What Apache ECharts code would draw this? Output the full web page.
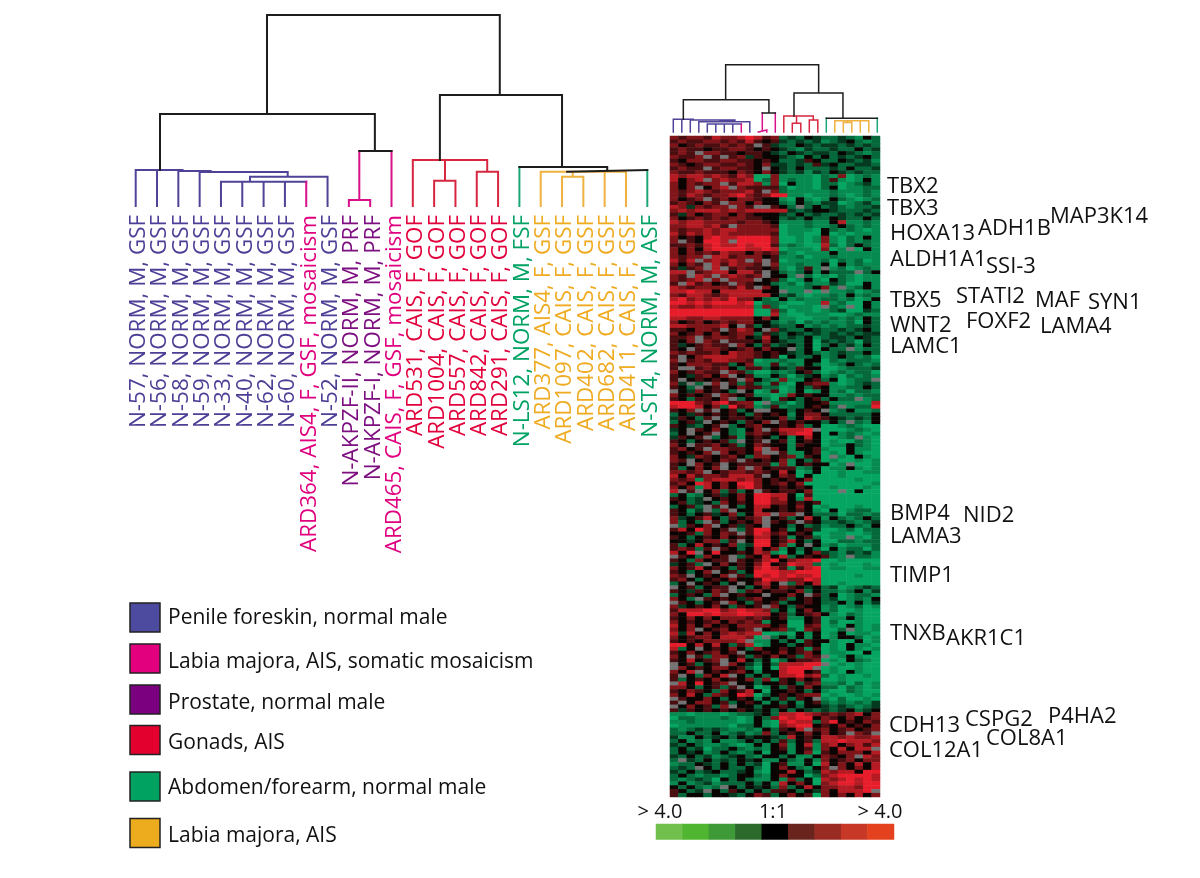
<!DOCTYPE html>
<html><head><meta charset="utf-8">
<style>html,body{margin:0;padding:0;background:#fff}#c{width:1200px;height:878px}</style>
<script src="https://cdn.jsdelivr.net/npm/echarts@6/dist/echarts.min.js"></script>
</head><body><div id="c"></div>
<script>
const sampleLabels = ["N-57, NORM, M, GSF","N-56, NORM, M, GSF","N-58, NORM, M, GSF","N-59, NORM, M, GSF","N-33, NORM, M, GSF","N-40, NORM, M, GSF","N-62, NORM, M, GSF","N-60, NORM, M, GSF","ARD364, AIS4, F, GSF, mosaicism","N-52, NORM, M, GSF","N-AKPZF-II, NORM, M, PRF","N-AKPZF-I, NORM, M, PRF","ARD465, CAIS, F, GSF, mosaicism","ARD531, CAIS, F, GOF","ARD1004, CAIS, F, GOF","ARD557, CAIS, F, GOF","ARD842, CAIS, F, GOF","ARD291, CAIS, F, GOF","N-LS12, NORM, M, FSF","ARD377, AIS4, F, GSF","ARD1097, CAIS, F, GSF","ARD402, CAIS, F, GSF","ARD682, CAIS, F, GSF","ARD411, CAIS, F, GSF","N-ST4, NORM, M, ASF"];
const sampleGroups = [0,0,0,0,0,0,0,0,1,0,2,2,1,3,3,3,3,3,4,5,5,5,5,5,4];
const legendNames = ["Penile foreskin, normal male","Labia majora, AIS, somatic mosaicism","Prostate, normal male","Gonads, AIS","Abdomen/forearm, normal male","Labia majora, AIS"];
const geneNames = ["TBX2","TBX3","HOXA13","ADH1B","MAP3K14","ALDH1A1","SSI-3","TBX5","STATI2","MAF","SYN1","WNT2","FOXF2","LAMA4","LAMC1","BMP4","NID2","LAMA3","TIMP1","TNXB","AKR1C1","CDH13","CSPG2","P4HA2","COL12A1","COL8A1"];
const scaleValues = [-4,-3,-2,-1,0,1,2,3,4];
const scaleLabels = ["> 4.0","1:1","> 4.0"];

// sample dendrogram: paths of [leaf position, height]
const bigBlack = [[[6.16,92],[6.16,191],[17.08,191],[17.08,111]],[[1.14,36],[1.14,92],[11.22,92],[11.22,55]],[[10.49,55],[12,55]],[[14.27,46],[14.27,111],[20,111],[20,39]],[[18,39],[22.12,39],[22.12,36]],[[20.24,34.3],[20.24,36],[24,36]]];
const bigPurple = [[[0,0],[0,36],[2.2,36]],[[1,0],[1,36]],[[2,0],[2,35],[3.52,35]],[[3,0],[3,34],[7.13,34],[7.13,29.3]],[[5.36,24.3],[5.36,29.3],[9,29.3],[9,0]],[[4,0],[4,24.3],[8,24.3]],[[5,0],[5,24.3]],[[6,0],[6,24.3]],[[7,0],[7,24.3]]];
const bigMagenta = [[[8,24.3],[8,0]],[[12,55],[12,0]],[[10.49,55],[10.49,6]],[[10,0],[10,6],[11,6],[11,0]]];
const bigRed = [[[13,0],[13,46],[16.49,46],[16.49,34.3]],[[16,0],[16,34.3],[17,34.3],[17,0]],[[14.51,46],[14.51,25.3]],[[14,0],[14,25.3],[15,25.3],[15,0]]];
const bigGreen = [[[18,0],[18,39]],[[24,0],[24,36]]];
const bigOrange = [[[19,0],[19,34.3],[23,34.3],[23,0]],[[22,0],[22,34.3]],[[20.5,34.3],[20.5,29.3]],[[20,0],[20,29.3],[21,29.3],[21,0]]];

// gene-cluster dendrogram above the heat map
const smallBlack = [[[6.16,32.3],[6.16,67.3],[17.1,67.3],[17.1,39]],[[1.18,12.7],[1.18,32.3],[11.25,32.3],[11.25,19]],[[10.47,19],[12,19]],[[14.2,16],[14.2,39],[19.96,39],[19.96,13.7]],[[18,13.7],[24,13.7]]];
const smallPurple = [[[0,0],[0,12.7],[2.35,12.7]],[[1,0],[1,12.7]],[[2,0],[2,12],[7.25,12]],[[3,0],[3,10.3],[9,10.3],[9,0]],[[4,0],[4,8],[8,8]],[[5,0],[5,8]],[[6,0],[6,8]],[[7,0],[7,8]],[[5.5,10.9],[7.25,10.9]]];
const smallMagenta = [[[8,0],[8,8]],[[12,0],[12,19]],[[10.47,19],[10.47,2]],[[10,0],[10,2],[11,2],[11,0]]];
const smallRed = [[[13,0],[13,16],[16.47,16],[16.47,12]],[[14.5,16],[14.5,8.7]],[[14,0],[14,8.7],[15,8.7],[15,0]],[[16,0],[16,12],[17,12],[17,0]]];
const smallGreen = [[[18,0],[18,13.7]],[[24,0],[24,13.7]]];
const smallOrange = [[[19,0],[19,11.3],[23,11.3],[23,0]],[[22,0],[22,11.3]],[[20,0],[20,9.5],[21,9.5],[21,0]],[[20.5,9.5],[20.5,11.3]]];

// heat map rows, top to bottom. a b c d = strong to weak green, . = black, 1 2 3 4 = weak to strong red, _ = no data
const rowsA = ["2122132234 312 cdc.d ccdcb.c","1211221213 1.1 dcdcd bcd.cbc","2.12112121 _1d cc.dc ddcdcdc","1211.11221 .1. dcbdc cdcc.cd","121_2211.1 1.d c.dcd dc.dcbc","2112_1_12d 1.. dcb.c .cdcd.c","1.22112211 .1. ccd1. cc.dcdb","21.1221121 .2d dcdc1 d.ccddc","1211_12211 ._. dc.cc cdc.ccd","2112111.21 .2. dcdbd c.dcdcc"];
const rowsB = ["3233232132 aa2 bbbba cb2abcb","3.23_23223 ac2 bcbba c1bab.b","2.2122_133 2b2 a.bba ccabcdb","2.2_.23_21 111 cabba c.abbcc","2123212223 1_2 cbbbb bcbbbcb","2132122342 124 4bbab bcbabcb","2.12_12.22 1.. ba.ba b.cbabc","121.21_22. 2.. cb.cb ddabcdb"];
const rowsC = ["32d2122_21 __1 .c_c. cdcbccd","2323332323 333 3dcd. .dcccdc","1d2.122.21 ... dc.cd ccdcdcd","2.12121221 1.. cdc.c c.dcc.c"];
const rowsD = ["3233222212 21. bbbcb b.3bbcb","2233231_22 221 abbcb bc.cbcb","2122323322 222 abbba .cbcbab","3132323222 221 abbaa .ababbb","2.1.343344 442 aabab 2bacb.b","2_1.443_44 442 aabab 2bacbcb","1121343343 441 bcbaa 3cac.cb","2.2.344443 343 abbba 2ab_a.b","2.2121322. 212 cbabb b.bbbbb","2122_33122 2.1 bbcab bcbbbbb"];
const rowsE = ["313_23232_ 2_1 abbbb cacbcab","2.21_31322 1_2 bbcbb .a.bcbb","1d12_3_121 1.1 bac1b _bcabcb","33_1233.33 1_. cbc.b .ccc_c.","21_32_2321 2_. .b_ca bacbabb","2123_2_222 _.1 cab.b a.cbabb","1_312.1_21 ..c bcacb bdcaa.b","3212222131 _2. bbbc. 2b_bc.b","33433.3333 3.. _bb_a _bbcabc","2133212333 33. cdbab bcb.bcb"];
const rowsF = ["3423232422 .cb .bcbb ccbcab.","4434344434 acc baabb 3bcaa.b","3223233333 b2c abbba _cb_a.b","4444444444 aa2 cabba bcdaadc","4444444444 aa3 baabb baabcbb","3322332222 .2. bbaab bcbcb.c"];
const rowsG = ["2.12.12122 ..c bcacb cbbca.c","3322223._1 c.d cc.bc bcbccdc","11.221_132 ._2 dcc.d ccdcd.c","2.12.2.122 c1d c.dcd cdcdcdd","112_12212. d3. cdc.b cddc.dc","1.2_21_111 .2. dcc.a dcdcadc","1d.1211_2. c1c d.c.a c.cdb.c"];
const rowsH = ["1._1221.12 .2. ._c.a .cc_bcc","212112.322 1.1 .dc.c bcdcc.c","1_.2333322 1.1 a.cc. bc.cbca","2_12133221 abb cbb.. acbcccb","1.22211c.2 bb1 bcb.c abc.cbc","1__1212.c1 1c. dc1.. aabcccd","2.1211_21c aac bc.1c abcbcca","1.d12.2_.1 bb. cacd. bcacbcb","1_.1.1.1_2 .cb 2bb.1 c.abcc_","2d_c_2_1c1 cb1 ba.12 2babcdc","1.c_.1_.21 1cc ab.c1 .bbcc.c","_.d2.1.c_. ab1 ab.ab .bcaccb","2.1.1_21.1 bba b2.1. .bbcbcc","1.c11.2_c. .ca 1.c.1 c.cc_bc"];
const rowsI = ["4442134122 a_c cac.. 1bbbbb3","3443.2c412 bc1 bcc.1 .c_bcc4","1.2_1_.1c. __. .c.1. _bc.bbc"];
const rowsJ = ["c.d1.1.1.c 1.1 .b.22 .ccccc.","d1.c1_.11. 1.. 2c.32 1.dcdc.","c.1d_.1.c1 .2_ 1.1.. c.c_cb.","1.dc.1_c.1 2.. 1.2c. aabcbaa","d._1.2.cb. 2_1 3334_ aaabcba","c._.1_.cb1 21. 2344. a.bcbab","d1.1_c.1b. 1.c .b.3. aabc_ba","1.c.1.1c_. 1_. 1b.1. abaacba"];
const rowsK = ["2._112.1c. 21. .b1.. abb.cba","12.1_2211. 3_2 .b..1 baa.bba","1.1.2_2.1. 2__ 1bb.1 aba.baa","2.d21.12.c 22. 12b1. a_ba.ba","21_.1.21_1 .1. 2b.c1 abaabab","1._2.1_.11 11b 2b.1. .ab_aab","1c.2.2_.2_ 2.1 11bc. abb.bab","2212_.1221 21. 3.ab. aabaabb"];
const rowsL = ["3.31221333 1_. 21a.a aabaaaa","212b233323 2.1 .1.2a aaaabaa","12.43.2.44 2.1 2.2aa aaaaaab","2.2b3.2.34 2.. 1.1.a abaaaba","3_1_.2c1c. _1. 11.2a aa_a.aa","c.bc.1d.2. 443 3.a1a aaaaaaa"];
const rowsM = ["1.cd_.1.2. 442 3.b3a aaaaaaa",".1cd.c2.1. 442 2.1.1 aaaaaaa","c.1c_1_.c. 33. 1.2.a baaabaa","1.bd_c2_.. 3.. 1.1.b a.abcca","1.c.1d.2c. 33_ 22_.c ccaccbc","2d.13.c1.1 2_. 1c.3. b.cbc.c","2c.c_1c.1. 2_1 .1_1. ccdcbcd","_c1.2_.1d1 ._. .c.cd bcc.cb."];
const rowsN = ["13.42.1_c1 44. 1b.1d aabcacc","..1c2.21_1 431 2.1.a abbaabc","1.c.1.2.1. 33. 1b.1c abb_bac","..d.22c1_. 44. 13.c. aaccbcc","1c.3.1.2cd 44. 2b._. bcabbbc","121c1_1.c. 3.2 b.c.c a.bccac","3.4_.4..1. 32b a.b.2 dcbdcdb","_1.c2.1_c1 .3. 3c.1. 1cb_ccb"];
const rowsO = ["1.c2.11_1. 134 .2334 aabaaaa","d.1c_.2.1. 24. 1433c abaaaba","2.13.1.c1. 343 1b134 abbaabb","1.c.2_.1c. 444 33444 aaaaaaa","21_.1.2_1d 434 34334 aaaabaa","12.c.1.2.. 143 32243 aaaaaaa","c._.1.c._. 23. _c2.3 aabaaaa","_.1c.11_.c .2. 21.d. cdabcdc"];
const rowsP = ["1.d1.21_c1 2.1 1.2c. ccbc.bd","c.1.c2_.1. ._. .2._1 c.abccb","2.c_1.1.d1 2.. 1c.1. cdabcb.","_1.c.1_2.c 1.1 c..1. cc.b.bd","2d.1.2.c1. 1_2 .c1.. bcabcab"];
const rowsQ = ["1333442343 32c .b.2. bcaabaa","2.44343344 33. 1c.12 .bacbaa","1.2.2.2221 21. 1bb.1 abb.baa","2.1.12.212 1b. .aa.1 acaabaa","3.2.2.1.22 22. 1aa12 aba.bab","2.2_.12.12 _.1 2ca21 aac_bab","3d3.2.2323 3aa ba.b. ab.abba","2.122.3332 a_c .b.b. ab..cab"];
const rowsR = ["1.1.22223_ bb. c.b1. .baa.ab","44.3.3.c13 ab. .c.1. aba.bba","3c._.1.2.c 2.. 1.1b1 aba.bab","1.2.12.1_. .1. 2.12. abbaa.a","2._1c22.1c 1.2 .1c21 _ab.baa","1.3.12_.3. c.a c.112 aba.cba","_.1c.1_2.d b.c 33344 _ababaa","_2.1.22.1c a.a 3444_ abaabaa"];
const rowsS = ["2.3_.1.12. b.. 344.1 aba.baa","1_.c2.3_.c .c. 33423 cabaaba","1c.1.2.1.2 c2b 1.2.1 aabaaaa","_3.4.12_.. c.. 1.c12 bbcacab","22.c.1c1_. ab. c1.2. ccacbab","1.21.c2.13 .a. .1.c. baacbaa","2.3.c21.43 ac. 1.122 abaabab","_1..2.c.1. b.c 1c1._ bacaaba"];
const rowsT = ["1_.22.1c.1 .b. c.b.1 cbcbcbd","_.2.1c2_.. c.. 1.c.. dcdcbcd","1d1.1.1.1. d.c .c.dc dcd.cd."];
const rowsU = ["bbabbbabcc d.c 33432 12123.2","accbbbcbab .c2 4344. 21.2.12","bbcbbbbbab .ba 3433c 24.1.21","abbbbbbacc .ba 2344. 1.2.1.2","cbcdcdcbbc b.c 1.3_1 2.12.12","cc.cc.bcdb c2c .1.2. 2.1_21_","dbb.cd.c.d ..d c3.1. 3323223"];
const rowsV = ["c.bcb.bbc. c.c 1c.1c 3343332","dc.cbbcbab .b. 2b.3b 23.2313","c.cdacc.cb cb. 1b.1b 2.3.33_","c.d.bc.cbc .a. .b.2a 1.222.3","dc.cdbcd.c b.. c.bb. 21.2_32","c_dc.cdc.d .bb .cb.b 2.12.22","bcc.dc.c.c da. 1bb.a 3.2.3.3","cdc_.c.cc. ca. 2.cb. 2_2.2.3"];
const rowsW = ["dc.cd.ccd. ba. .3.cd 3233.44","c.cbccbc.. cb. 2..ac 2344443","cbcdca.c.c bb. b2c.a 3234343","b.bcdbccc. c.b 3.2.a 2344344",".c.cbc_.c. d.c 2c.3. 2233244","1.cd_.c1.c .c1 1.c.d 2.3334_","1c..c..dc. 21c .2.1a 2.2.3.2"];

/* styles and layout */
const FONT = '"Open Sans"';
const groupColors = ["#4b3f96","#e0007f","#7d0f80","#e2003c","#00a263","#efab22"];
const legendColors = ["#4d4b9f","#e2007f","#7b007f","#e3002f","#00a261","#edab1e"];
const lineColors = {black:"#1d1d1d",purple:"#4f4398",magenta:"#d8108a",red:"#d7263f",green:"#1ba777",orange:"#efb13f"};
const heatPieces = [{value:-9,color:"#737373"},{value:-4,color:"#06a662"},{value:-3,color:"#078a50"},{value:-2,color:"#06693c"},{value:-1,color:"#053a20"},{value:0,color:"#0a0403"},{value:1,color:"#4a0d10"},{value:2,color:"#7f1419"},{value:3,color:"#b51b22"},{value:4,color:"#e81d2b"}];
const scalePieces = [{value:-4,color:"#71bf4c"},{value:-3,color:"#50b631"},{value:-2,color:"#3e9a36"},{value:-1,color:"#2b6a2b"},{value:0,color:"#000000"},{value:1,color:"#6a241e"},{value:2,color:"#9a2b22"},{value:3,color:"#c73827"},{value:4,color:"#e4421f"}];
const geneLayout = [[887,187],[887,209],[890,234],[978,229],[1050,217],[890,260],[986,267],[890,301],[956,297],[1035,301],[1088,303],[890,326],[966,322],[1040,327],[890,347],[890,514],[963,516],[890,537],[890,576],[890,634],[946,639],[889,726],[965,720],[1048,717],[889,751],[986,739]];
const legendLayout = [[603,618.5],[644,662.5],[685,703.5],[725.5,743.5],[772,788.5],[818.5,836.5]];
const scaleLabelLayout = [[660,812],[773,812],[880,812]];

const codeMap = {a:-4,b:-3,c:-2,d:-1,".":0,"1":1,"2":2,"3":3,"4":4,"_":-9};
const allRows = [].concat(rowsA,rowsB,rowsC,rowsD,rowsE,rowsF,rowsG,rowsH,rowsI,rowsJ,rowsK,rowsL,rowsM,rowsN,rowsO,rowsP,rowsQ,rowsR,rowsS,rowsT,rowsU,rowsV,rowsW);
const heatData = [];
allRows.forEach((row,r)=>{ row.replace(/ /g,"").split("").forEach((ch,c)=>heatData.push([c,r,codeMap[ch]])); });

function flat(paths){ const out=[]; paths.forEach(p=>{p.forEach(q=>out.push(q)); out.push([null,null]);}); return out; }
function tree(paths,color,gi,w){ return {type:'line',xAxisIndex:gi,yAxisIndex:gi,data:flat(paths),symbol:'none',clip:false,silent:true,animation:false,connectNulls:false,lineStyle:{color:color,width:w,cap:'square',join:'miter'}}; }

const graphics = [];
geneNames.forEach((g,i)=>graphics.push({type:'text',silent:true,style:{text:g,x:geneLayout[i][0],y:geneLayout[i][1],font:'22px '+FONT,fill:'#111',align:'left',verticalAlign:'middle'}}));
legendNames.forEach((n,i)=>{
  graphics.push({type:'rect',silent:true,shape:{x:130,y:legendLayout[i][0],width:30,height:29},style:{fill:legendColors[i],stroke:'#222',lineWidth:1.5}});
  graphics.push({type:'text',silent:true,style:{text:n,x:168,y:legendLayout[i][1],font:'21px '+FONT,fill:'#111',align:'left',verticalAlign:'middle'}});
});
scaleLabels.forEach((t,i)=>graphics.push({type:'text',silent:true,style:{text:t,x:scaleLabelLayout[i][0],y:scaleLabelLayout[i][1],font:'20px '+FONT,fill:'#111',align:'center',verticalAlign:'middle'}}));

const chart = echarts.init(document.getElementById('c'),null,{renderer:'canvas'});
chart.setOption({
  backgroundColor:'#fff',animation:false,
  grid:[
    {left:135.7,width:511.6,top:15,height:191},
    {left:673.3,width:204,top:64.7,height:67.3},
    {left:670,width:210,top:136,height:661},
    {left:656,width:238,top:824,height:15.5},
    {left:138.7,width:511.6,top:15,height:191}
  ],
  xAxis:[
    {gridIndex:0,type:'value',min:0,max:24,show:false},
    {gridIndex:1,type:'value',min:0,max:24,show:false},
    {gridIndex:2,type:'category',data:sampleLabels,show:false},
    {gridIndex:3,type:'category',data:scaleValues,show:false},
    {gridIndex:4,type:'category',boundaryGap:false,data:sampleLabels,splitLine:{show:false},axisLine:{show:false},axisTick:{show:false},
      axisLabel:{show:true,interval:0,rotate:90,margin:9,fontFamily:FONT,fontSize:22.4,
        color:v=>groupColors[sampleGroups[sampleLabels.indexOf(v)]]}}
  ],
  yAxis:[
    {gridIndex:0,type:'value',min:0,max:191,show:false},
    {gridIndex:1,type:'value',min:0,max:67.3,show:false},
    {gridIndex:2,type:'category',inverse:true,data:allRows.map((_,i)=>i),show:false},
    {gridIndex:3,type:'category',data:['scale'],show:false},
    {gridIndex:4,type:'value',min:0,max:191,show:false}
  ],
  visualMap:[
    {type:'piecewise',show:false,seriesIndex:12,pieces:heatPieces,dimension:2},
    {type:'piecewise',show:false,seriesIndex:13,pieces:scalePieces,dimension:2}
  ],
  series:[
    tree(bigPurple,lineColors.purple,0,2),tree(bigMagenta,lineColors.magenta,0,2),tree(bigRed,lineColors.red,0,2),tree(bigGreen,lineColors.green,0,2),tree(bigOrange,lineColors.orange,0,2),tree(bigBlack,lineColors.black,0,2),
    tree(smallPurple,lineColors.purple,1,1.5),tree(smallMagenta,lineColors.magenta,1,1.5),tree(smallRed,lineColors.red,1,1.5),tree(smallGreen,lineColors.green,1,1.5),tree(smallOrange,lineColors.orange,1,1.5),tree(smallBlack,lineColors.black,1,1.5),
    {type:'heatmap',xAxisIndex:2,yAxisIndex:2,data:heatData,silent:true,animation:false,progressive:0},
    {type:'heatmap',xAxisIndex:3,yAxisIndex:3,data:scaleValues.map((v,i)=>[i,0,v]),silent:true,animation:false}
  ],
  graphic:{elements:graphics}
});
</script></body></html>
